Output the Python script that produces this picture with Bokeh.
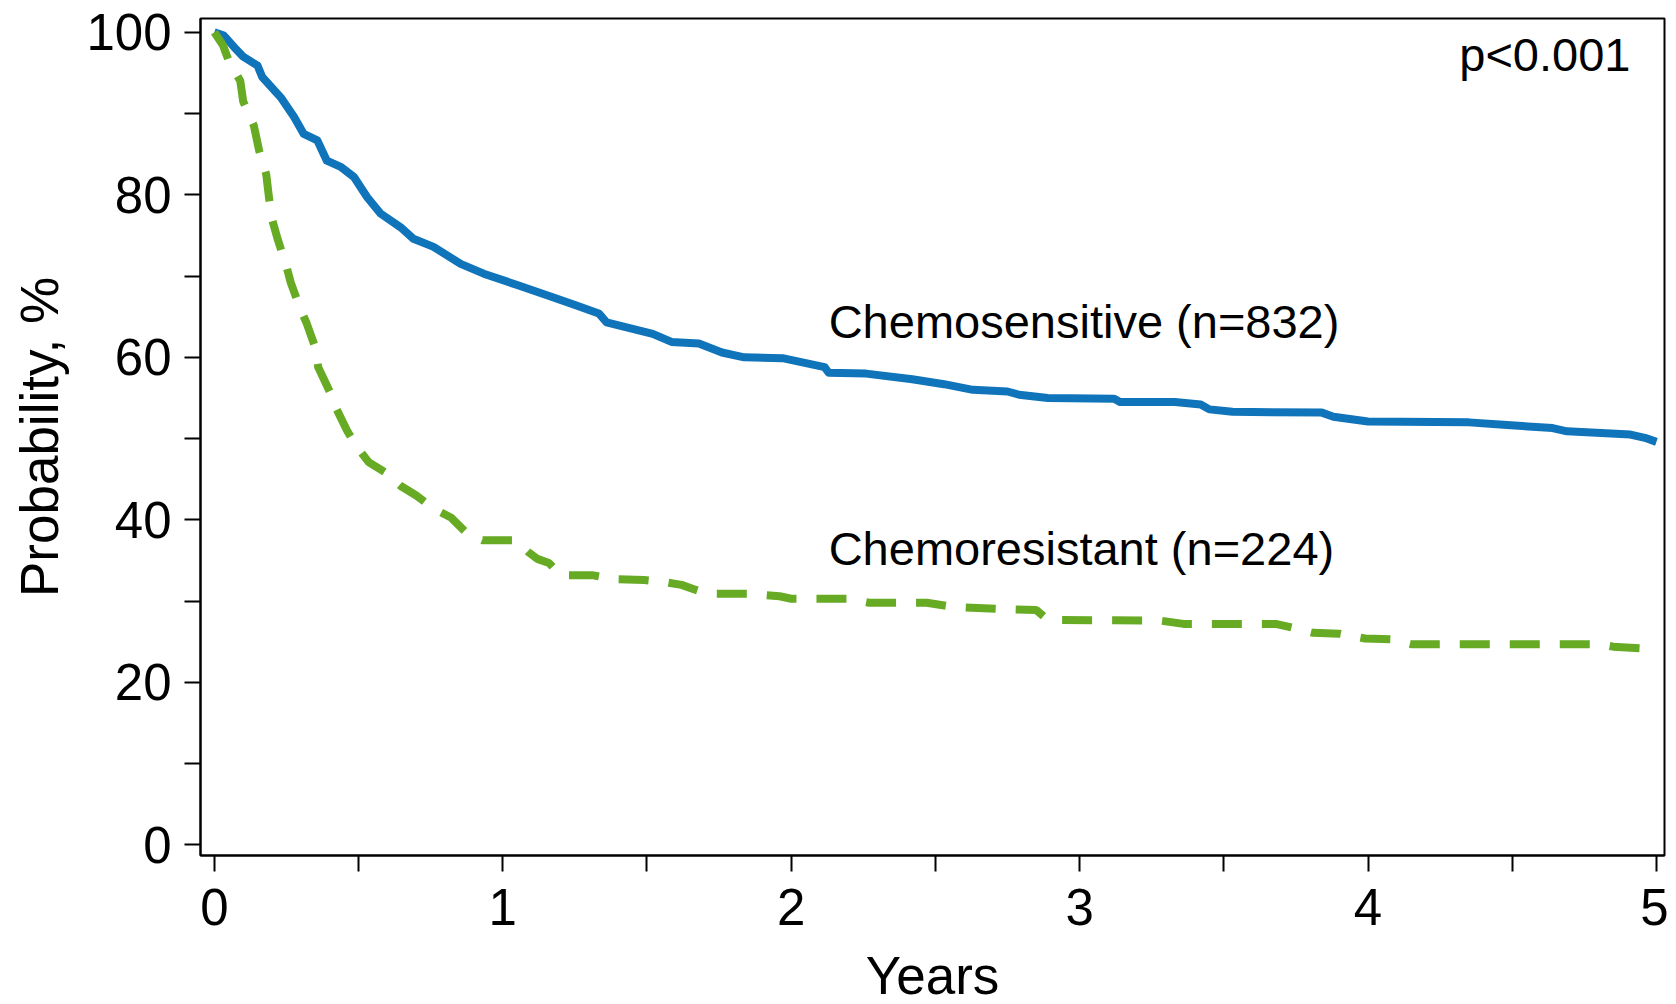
from bokeh.plotting import figure
from bokeh.models import Range1d, FixedTicker, ColumnDataSource
from bokeh.core.properties import value
from bokeh.embed import file_html
from bokeh.resources import INLINE

# ---- data (Kaplan-Meier curves) ----
sens_years = [0.00, 0.033, 0.068, 0.10, 0.15, 0.166, 0.23, 0.276, 0.31, 0.357, 0.39,
              0.44, 0.484, 0.53, 0.576, 0.646, 0.69, 0.76, 0.854, 0.934, 1.05, 1.166,
              1.253, 1.333, 1.36, 1.52, 1.585, 1.68, 1.76, 1.837, 1.97, 2.116, 2.13,
              2.26, 2.42, 2.53, 2.63, 2.75, 2.79, 2.89, 3.12, 3.14, 3.33, 3.42, 3.45,
              3.53, 3.84, 3.88, 4.00, 4.35, 4.47, 4.64, 4.69, 4.91, 4.96, 5.00]
sens_prob = [100.0, 99.6, 98.2, 97.0, 95.9, 94.5, 92.0, 89.6, 87.5, 86.7, 84.2,
             83.4, 82.2, 79.7, 77.7, 76.0, 74.6, 73.6, 71.5, 70.3, 68.9, 67.5,
             66.4, 65.4, 64.3, 62.9, 61.9, 61.7, 60.6, 60.0, 59.9, 58.8, 58.1,
             58.0, 57.3, 56.7, 56.0, 55.8, 55.4, 55.0, 54.9, 54.5, 54.5, 54.2, 53.6,
             53.3, 53.2, 52.7, 52.1, 52.0, 51.7, 51.3, 50.9, 50.5, 50.1, 49.6]

res_years = [0.00, 0.03, 0.05, 0.09, 0.10, 0.137, 0.155, 0.18, 0.19, 0.20, 0.22,
             0.25, 0.265, 0.30, 0.32, 0.35, 0.36, 0.40, 0.42, 0.46, 0.49, 0.535,
             0.59, 0.645, 0.70, 0.76, 0.82, 0.877, 0.93, 1.045, 1.09, 1.12, 1.16,
             1.20, 1.31, 1.385, 1.49, 1.57, 1.62, 1.66, 1.71, 1.85, 1.96, 2.00,
             2.20, 2.27, 2.47, 2.56, 2.75, 2.85, 2.89, 3.28, 3.36, 3.68, 3.73,
             3.81, 3.90, 3.99, 4.08, 4.15, 4.80, 4.85, 4.95]
res_prob = [100.0, 98.4, 96.5, 94.0, 91.5, 88.5, 85.5, 82.5, 79.5, 77.0, 74.5,
            71.2, 69.2, 65.8, 64.2, 61.2, 58.8, 55.8, 53.9, 51.0, 49.2, 47.1,
            45.9, 44.2, 43.0, 41.4, 40.3, 38.3, 37.5, 37.5, 36.0, 35.2, 34.7,
            33.2, 33.2, 32.7, 32.6, 32.3, 32.0, 31.5, 30.9, 30.9, 30.6, 30.3,
            30.3, 29.8, 29.8, 29.3, 29.0, 28.9, 27.7, 27.6, 27.2, 27.2, 26.8,
            26.1, 26.0, 25.4, 25.3, 24.7, 24.7, 24.4, 24.2]

group_labels = ["Chemosensitive (n=832)", "Chemoresistant (n=224)"]
p_value_text = "p<0.001"

x_major = [0, 1, 2, 3, 4, 5]
x_minor = [0.5, 1.5, 2.5, 3.5, 4.5]
y_major = [0, 20, 40, 60, 80, 100]
y_minor = [10, 30, 50, 70, 90]

FONT = "Liberation Sans"
BLUE = "#0F74BA"
GREEN = "#67AB25"

p = figure(frame_width=1464, frame_height=837,
           min_border_left=200, min_border_top=18, min_border_right=4, min_border_bottom=141,
           x_range=Range1d(-0.048, 5.028), y_range=Range1d(-1.3, 101.7),
           output_backend="svg", toolbar_location=None, tools="")

p.background_fill_color = "white"
p.border_fill_color = "white"
p.outline_line_color = "black"
p.outline_line_width = 2
p.grid.visible = False

for ax in (p.xaxis[0], p.yaxis[0]):
    ax.axis_line_color = "black"
    ax.axis_line_width = 2
    ax.major_tick_line_color = "black"
    ax.minor_tick_line_color = "black"
    ax.major_tick_line_width = 2
    ax.minor_tick_line_width = 2
    ax.major_tick_in = 0
    ax.minor_tick_in = 0
    ax.major_tick_out = 16
    ax.minor_tick_out = 16
    ax.major_label_text_font = FONT
    ax.major_label_text_font_size = "51px"
    ax.major_label_text_color = "black"
    ax.axis_label_text_font = FONT
    ax.axis_label_text_font_size = "53px"
    ax.axis_label_text_font_style = "normal"
    ax.axis_label_text_color = "black"

p.xaxis.ticker = FixedTicker(ticks=x_major, minor_ticks=x_minor)
p.yaxis.ticker = FixedTicker(ticks=y_major, minor_ticks=y_minor)
p.xaxis.axis_label = "Years"
p.yaxis.axis_label = "Probability, %"
p.xaxis.major_label_standoff = 17
p.yaxis.major_label_standoff = 13
p.xaxis.axis_label_standoff = 18
p.yaxis.axis_label_standoff = 14

p.line(sens_years, sens_prob, line_color=BLUE, line_width=8, line_join="round")
p.line(res_years, res_prob, line_color=GREEN, line_width=8, line_dash="30 20")

lab_src = ColumnDataSource(dict(x=[2.13, 2.13], y=[64.4, 36.5], t=group_labels))
p.text(x="x", y="y", text="t", source=lab_src, text_font=value(FONT),
       text_font_size="47px", text_color="black", text_baseline="alphabetic",
       text_align="left")
p.text(x=[4.91], y=[97.3], text=[p_value_text], text_font=value(FONT),
       text_font_size="47px", text_color="black", text_baseline="alphabetic",
       text_align="right")

open("out.html", "w").write(file_html(p, INLINE))
